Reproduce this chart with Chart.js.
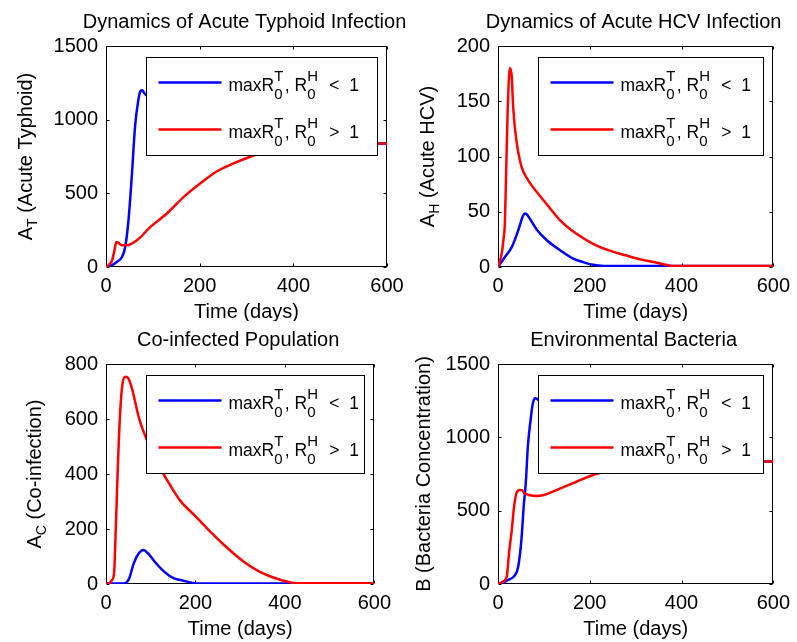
<!DOCTYPE html>
<html>
<head>
<meta charset="utf-8">
<script src="https://cdn.jsdelivr.net/npm/chart.js@4.4.1/dist/chart.umd.min.js"></script>
<style>
  html, body { margin: 0; padding: 0; background: #fff; }
  #wrap { position: relative; width: 797px; height: 642px; overflow: hidden; background: #fff; }
  canvas { position: absolute; }
</style>
</head>
<body>
<div id="wrap">
  <canvas id="c1" width="430" height="321" style="left:0;top:0"></canvas>
  <canvas id="c2" width="399" height="321" style="left:398px;top:0"></canvas>
  <canvas id="c3" width="398" height="321" style="left:0;top:321px"></canvas>
  <canvas id="c4" width="399" height="321" style="left:398px;top:321px"></canvas>
</div>
<script>
// blue = max R0^T, R0^H < 1 ; red = max R0^T, R0^H > 1
const typhoidLowDays = [0, 12, 23, 34, 41, 48, 55, 62, 69, 73, 77, 82, 100, 150, 200, 300, 400, 500, 600];
const typhoidLow = [0, 12, 34, 68, 136, 317, 612, 952, 1133, 1190, 1200, 1179, 1120, 1000, 920, 860, 845, 838, 838];
const typhoidHighDays = [0, 6, 13, 18, 22, 26, 34, 45, 66, 95, 130, 166, 201, 237, 270, 308, 350, 400, 450, 500, 550, 600];
const typhoidHigh = [0, 15, 45, 113, 170, 165, 147, 147, 181, 272, 363, 476, 567, 650, 700, 748, 790, 815, 830, 836, 838, 838];

const hcvLowDays = [0, 15, 30, 44, 54, 58, 62, 72, 86, 107, 136, 164, 185, 207, 230, 600];
const hcvLow = [0, 9, 18, 33, 46, 48.5, 48, 42, 33, 24, 15, 7.6, 4.5, 2, 1, 1];
const hcvHighDays = [0, 8, 12, 15, 18, 21, 24, 26, 28, 30, 33, 40, 51, 65, 100, 136, 171, 207, 242, 278, 313, 334, 360, 380, 600];
const hcvHigh = [0, 12, 25, 40, 90, 140, 172, 180, 178, 172, 145, 115, 91, 79, 60, 42, 30, 21, 15, 10.6, 6.7, 5, 2.5, 1, 1];

const coLowDays = [0, 40, 46, 52, 62, 73, 84, 94, 109, 130, 151, 173, 194, 210, 600];
const coLow = [2, 2, 6, 21, 75, 111, 124, 111, 81, 45, 21, 12, 4, 2, 2];
const coHighDays = [0, 8, 13, 18, 22, 27, 32, 37, 43, 50, 59, 73, 84, 100, 120, 141, 165, 201, 237, 272, 308, 343, 379, 407, 425, 600];
const coHigh = [0, 3, 14, 39, 208, 451, 633, 730, 754, 748, 705, 608, 554, 490, 425, 366, 305, 245, 184, 130, 81, 45, 21, 8, 3, 3];

const bactLowDays = [0, 10, 22, 37, 44, 51, 56, 61, 65, 71, 76, 81, 90, 120, 160, 200, 300, 400, 500, 600];
const bactLow = [0, 8, 27, 61, 118, 300, 527, 709, 936, 1118, 1232, 1266, 1250, 1150, 1040, 960, 880, 850, 836, 836];
const bactHighDays = [0, 10, 19, 24, 30, 35, 40, 47, 52, 58, 70, 83, 100, 136, 171, 207, 240, 280, 330, 400, 500, 600];
const bactHigh = [0, 15, 50, 209, 368, 527, 618, 641, 640, 618, 605, 600, 607, 652, 697, 743, 770, 795, 815, 830, 836, 836];

const xTicks = [0, 200, 400, 600];

const FONT = '"Liberation Sans", Arial, Helvetica, sans-serif';
const BLUE = '#0000ff';
const RED = '#ff0000';

const pts = (xs, ys) => xs.map((x, i) => ({ x: x, y: ys[i] }));

// text with sub/superscripts, parts: strings or {sup, sub}
function richWidth(ctx, parts, size, small, gap) {
  let w = 0;
  for (const p of parts) {
    if (typeof p === 'string') {
      ctx.font = size + 'px ' + FONT;
      w += ctx.measureText(p).width;
    } else {
      ctx.font = small + 'px ' + FONT;
      w += Math.max(p.sup ? ctx.measureText(p.sup).width : 0, p.sub ? ctx.measureText(p.sub).width : 0) + gap;
    }
  }
  return w;
}

function drawRich(ctx, x, y, parts, size, small, supOff, subOff, gap) {
  ctx.textBaseline = 'alphabetic';
  ctx.textAlign = 'left';
  for (const p of parts) {
    if (typeof p === 'string') {
      ctx.font = size + 'px ' + FONT;
      ctx.fillText(p, x, y);
      x += ctx.measureText(p).width;
    } else {
      ctx.font = small + 'px ' + FONT;
      let w = 0;
      if (p.sup) { ctx.fillText(p.sup, x, y + supOff); w = Math.max(w, ctx.measureText(p.sup).width); }
      if (p.sub) { ctx.fillText(p.sub, x, y + subOff); w = Math.max(w, ctx.measureText(p.sub).width); }
      x += w + gap;
    }
  }
}

const legendRows = [
  { color: BLUE, parts: ['maxR', { sup: 'T', sub: '0' }, ', R', { sup: 'H', sub: '0' }, '  <  1'] },
  { color: RED, parts: ['maxR', { sup: 'T', sub: '0' }, ', R', { sup: 'H', sub: '0' }, '  >  1'] }
];

function decoPlugin(cfg) {
  return {
    id: 'deco',
    beforeDatasetsDraw(chart) {
      const { ctx, chartArea: a, scales } = chart;
      ctx.save();
      ctx.strokeStyle = '#000';
      ctx.lineWidth = 1;
      const l = Math.round(a.left) + 0.5, r = Math.round(a.right) - 0.5;
      const t = Math.round(a.top) + 0.5, b = Math.round(a.bottom) - 0.5;
      ctx.strokeRect(l, t, r - l, b - t);
      ctx.beginPath();
      scales.x.ticks.forEach(tk => {
        const px = Math.round(scales.x.getPixelForValue(tk.value)) + 0.5;
        ctx.moveTo(px, b); ctx.lineTo(px, b - 3);
        ctx.moveTo(px, t); ctx.lineTo(px, t + 3);
      });
      scales.y.ticks.forEach(tk => {
        const py = Math.round(scales.y.getPixelForValue(tk.value)) + 0.5;
        ctx.moveTo(l, py); ctx.lineTo(l + 3, py);
        ctx.moveTo(r, py); ctx.lineTo(r - 3, py);
      });
      ctx.stroke();
      ctx.restore();
    },
    afterDatasetsDraw(chart) {
      const { ctx, chartArea: a } = chart;
      ctx.save();
      // legend
      const lx = Math.round(a.left + 40) + 0.5;
      const lr = Math.round(a.right - 10) + 0.5;
      const ly = Math.round(a.top + 11) + 0.5;
      const lh = 98;
      ctx.fillStyle = '#fff';
      ctx.fillRect(lx, ly, lr - lx, lh);
      ctx.strokeStyle = '#000';
      ctx.lineWidth = 1;
      ctx.strokeRect(lx, ly, lr - lx, lh);
      legendRows.forEach((row, i) => {
        const yLine = ly + 25 + i * 47;
        ctx.strokeStyle = row.color;
        ctx.lineWidth = 2.5;
        ctx.beginPath();
        ctx.moveTo(lx + 12, yLine);
        ctx.lineTo(lx + 75, yLine);
        ctx.stroke();
        ctx.fillStyle = '#000';
        drawRich(ctx, lx + 82, yLine + 8, row.parts, 17.5, 15, -10, 8, 1.5);
      });
      // title
      ctx.fillStyle = '#000';
      ctx.font = '20px ' + FONT;
      ctx.textAlign = 'center';
      ctx.textBaseline = 'middle';
      ctx.fillText(cfg.title, (a.left + a.right) / 2 - 2, a.top - 23.5);
      // x label
      ctx.fillText('Time (days)', (a.left + a.right) / 2, a.bottom + 45.5);
      // y label
      ctx.translate(cfg.ylabelX, (a.top + a.bottom) / 2);
      ctx.rotate(-Math.PI / 2);
      const w = richWidth(ctx, cfg.ylabel, 20, 14, 0);
      drawRich(ctx, -w / 2, 7, cfg.ylabel, 20, 14, -9, 5, 0);
      ctx.restore();
    }
  };
}

function makeChart(id, cfg) {
  const ctx = document.getElementById(id).getContext('2d');
  return new Chart(ctx, {
    type: 'line',
    data: {
      datasets: [
        { data: pts(cfg.lowDays, cfg.low), borderColor: BLUE, order: 2 },
        { data: pts(cfg.highDays, cfg.high), borderColor: RED, order: 1 }
      ]
    },
    options: {
      responsive: false,
      animation: false,
      events: [],
      elements: {
        point: { radius: 0 },
        line: { borderWidth: 2.5, fill: false, cubicInterpolationMode: 'monotone' }
      },
      layout: { padding: { left: 0, right: cfg.padRight, top: cfg.padTop, bottom: 0 } },
      scales: {
        x: {
          type: 'linear',
          min: 0,
          max: 600,
          afterBuildTicks: s => { s.ticks = xTicks.map(v => ({ value: v })); },
          afterFit: s => { s.height = cfg.xH; },
          grid: { display: false, drawTicks: false },
          border: { display: false },
          ticks: { color: '#000', padding: 7, maxRotation: 0, autoSkip: false, callback: v => String(v), font: { size: 20, family: FONT } }
        },
        y: {
          type: 'linear',
          min: 0,
          max: cfg.yMax,
          afterFit: s => { s.width = cfg.yW; },
          grid: { display: false, drawTicks: false },
          border: { display: false },
          ticks: { stepSize: cfg.yStep, color: '#000', padding: 8, callback: v => String(v), font: { size: 20, family: FONT } }
        }
      },
      plugins: {
        legend: { display: false },
        tooltip: { enabled: false }
      }
    },
    plugins: [decoPlugin(cfg)]
  });
}

makeChart('c1', {
  title: 'Dynamics of Acute Typhoid Infection',
  ylabel: ['A', { sub: 'T' }, ' (Acute Typhoid)'],
  ylabelX: 25,
  yMax: 1500, yStep: 500,
  lowDays: typhoidLowDays, low: typhoidLow,
  highDays: typhoidHighDays, high: typhoidHigh,
  yW: 106, xH: 54, padTop: 46, padRight: 43
});

makeChart('c2', {
  title: 'Dynamics of Acute HCV Infection',
  ylabel: ['A', { sub: 'H' }, ' (Acute HCV)'],
  ylabelX: 29,
  yMax: 200, yStep: 50,
  lowDays: hcvLowDays, low: hcvLow,
  highDays: hcvHighDays, high: hcvHigh,
  yW: 100, xH: 54, padTop: 46, padRight: 18
});

makeChart('c3', {
  title: 'Co-infected Population',
  ylabel: ['A', { sub: 'C' }, ' (Co-infection)'],
  ylabelX: 34,
  yMax: 800, yStep: 200,
  lowDays: coLowDays, low: coLow,
  highDays: coHighDays, high: coHigh,
  yW: 106, xH: 58, padTop: 43, padRight: 11
});

makeChart('c4', {
  title: 'Environmental Bacteria',
  ylabel: ['B (Bacteria Concentration)'],
  ylabelX: 25,
  yMax: 1500, yStep: 500,
  lowDays: bactLowDays, low: bactLow,
  highDays: bactHighDays, high: bactHigh,
  yW: 100, xH: 58, padTop: 43, padRight: 18
});
</script>
</body>
</html>
